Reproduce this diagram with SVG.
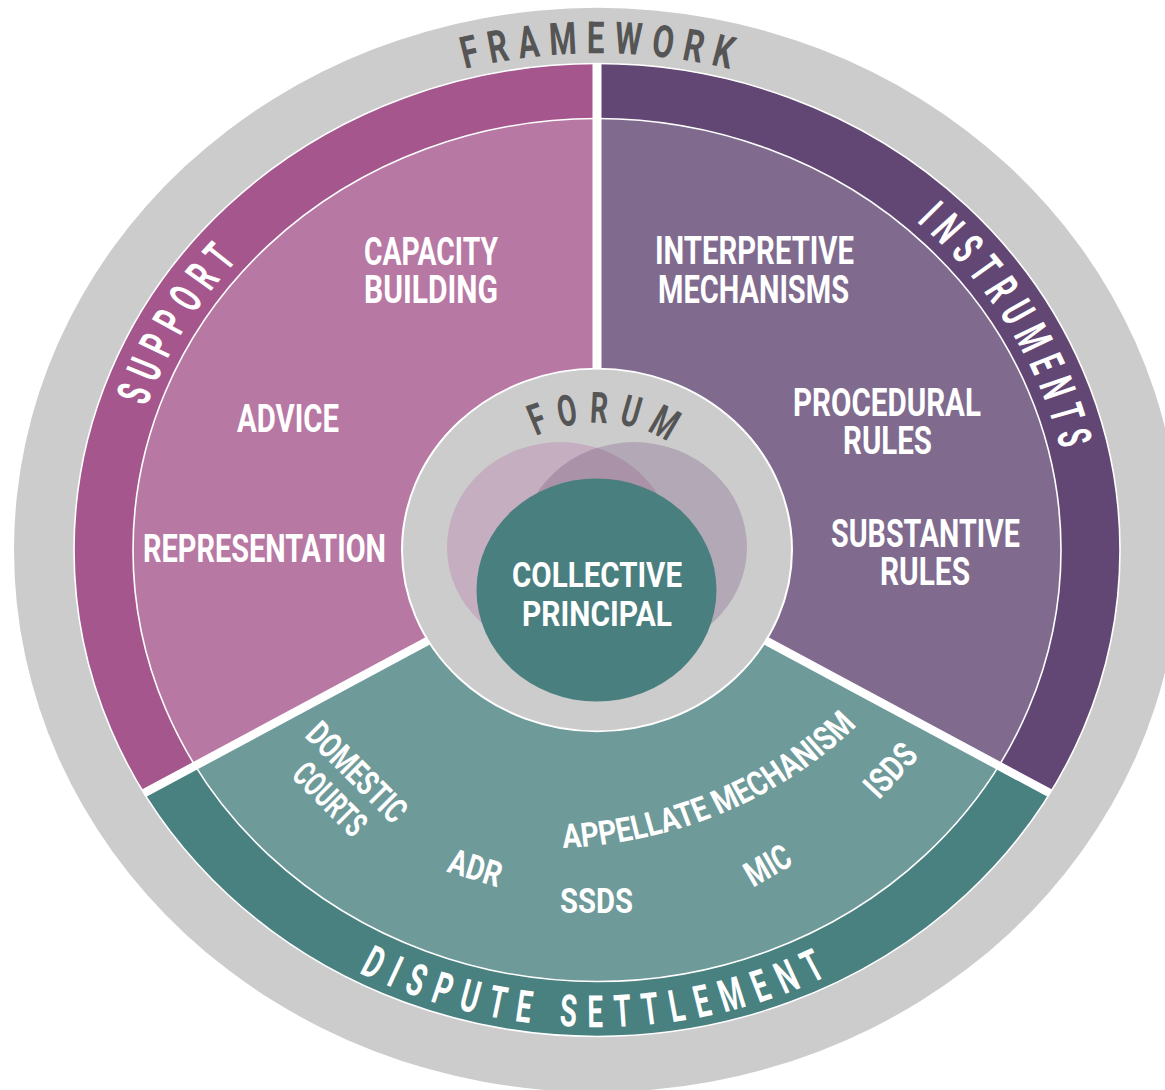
<svg xmlns="http://www.w3.org/2000/svg" width="1165" height="1090" viewBox="0 0 1165 1090">
<style>
text{font-family:Roboto,"Liberation Sans","DejaVu Sans",sans-serif;font-weight:700;}
.w{fill:#ffffff;}
.g{fill:#555555;}
.lbl{font-size:38px;}
.sm{font-size:35px;}
.ring{fill:none;stroke:#ffffff;stroke-width:1.6;}
.div{stroke:#ffffff;stroke-width:9;}
</style>
<defs>
<path id="pFrame" d="M -501.8 -182.6 A 534 534 0 0 1 501.8 -182.6"/>
<path id="pSupport" d="M -412.2 238 A 476 476 0 0 1 0 -476"/>
<path id="pInstr" d="M 82.66 -468.77 A 476 476 0 0 1 447.3 162.8"/>
<path id="pDispute" d="M -444.3 256.5 A 513 513 0 0 0 444.3 256.5"/>
<path id="pForum" d="M -136.6 0 A 136.6 136.6 0 0 1 136.6 0"/>
<path id="pAppel" d="M -34 320.4 A 437 437 0 0 0 261 188.2"/>
<clipPath id="cVennL"><circle cx="-37" cy="-3" r="113"/></clipPath>
</defs>

<g id="framework">
<g transform="translate(597 550) scale(1 0.93)">
<circle cx="0" cy="0" r="583" fill="#cccccc"/>
<text class="g" font-size="48" letter-spacing="14.5" text-anchor="middle"><textPath href="#pFrame" startOffset="657.1" textLength="277" lengthAdjust="spacingAndGlyphs">FRAMEWORK</textPath></text>
</g>
</g>

<g id="support">
<g transform="translate(597 550) scale(1 0.93)">
<path d="M0 0 L-452.9 261.5 A523 523 0 0 1 0 -523 Z" fill="#a5568c"/>
<path d="M0 0 L-401.8 232 A464 464 0 0 1 0 -464 Z" fill="#b878a4"/>
<text class="w" font-size="47" letter-spacing="15.8" text-anchor="middle"><textPath href="#pSupport" startOffset="502.4" textLength="192.5" lengthAdjust="spacingAndGlyphs">SUPPORT</textPath></text>
</g>
<text class="w lbl"><tspan x="364" y="265" textLength="134" lengthAdjust="spacingAndGlyphs">CAPACITY</tspan><tspan x="364" y="303" textLength="134" lengthAdjust="spacingAndGlyphs">BUILDING</tspan></text>
<text class="w lbl" x="237" y="432" textLength="102" lengthAdjust="spacingAndGlyphs">ADVICE</text>
<text class="w lbl" x="143" y="562" textLength="243" lengthAdjust="spacingAndGlyphs">REPRESENTATION</text>
</g>

<g id="instruments">
<g transform="translate(597 550) scale(1 0.93)">
<path d="M0 0 L0 -523 A523 523 0 0 1 452.9 261.5 Z" fill="#624774"/>
<path d="M0 0 L0 -464 A464 464 0 0 1 401.8 232 Z" fill="#806b8f"/>
<text class="w" font-size="47" letter-spacing="15.7" text-anchor="middle"><textPath href="#pInstr" startOffset="415.5" textLength="297.4" lengthAdjust="spacingAndGlyphs">INSTRUMENTS</textPath></text>
</g>
<text class="w lbl"><tspan x="655" y="264" textLength="199" lengthAdjust="spacingAndGlyphs">INTERPRETIVE</tspan><tspan x="658" y="303" textLength="191" lengthAdjust="spacingAndGlyphs">MECHANISMS</tspan></text>
<text class="w lbl"><tspan x="793" y="416" textLength="188" lengthAdjust="spacingAndGlyphs">PROCEDURAL</tspan><tspan x="843" y="454" textLength="89" lengthAdjust="spacingAndGlyphs">RULES</tspan></text>
<text class="w lbl"><tspan x="831" y="547" textLength="189" lengthAdjust="spacingAndGlyphs">SUBSTANTIVE</tspan><tspan x="880" y="585" textLength="90" lengthAdjust="spacingAndGlyphs">RULES</tspan></text>
</g>

<g id="dispute-settlement">
<g transform="translate(597 550) scale(1 0.93)">
<path d="M0 0 L452.9 261.5 A523 523 0 0 1 -452.9 261.5 Z" fill="#498080"/>
<path d="M0 0 L401.8 232 A464 464 0 0 1 -401.8 232 Z" fill="#6e9a9a"/>
<text class="w" font-size="48" letter-spacing="19.6" text-anchor="middle"><textPath href="#pDispute" startOffset="538.4" textLength="498.4" lengthAdjust="spacingAndGlyphs">DISPUTE SETTLEMENT</textPath></text>
<text class="w" font-size="36"><textPath href="#pAppel" startOffset="0" textLength="330" lengthAdjust="spacingAndGlyphs">APPELLATE MECHANISM</textPath></text>
</g>
<text class="w sm" transform="translate(344 785) rotate(45)" text-anchor="middle"><tspan x="0" y="-6" textLength="126" lengthAdjust="spacingAndGlyphs">DOMESTIC</tspan><tspan x="0" y="32" textLength="88" lengthAdjust="spacingAndGlyphs">COURTS</tspan></text>
<text class="w sm" transform="translate(475.5 867.5) rotate(17)" x="0" y="12.5" text-anchor="middle" textLength="54" lengthAdjust="spacingAndGlyphs">ADR</text>
<text class="w sm" x="560" y="913" textLength="73" lengthAdjust="spacingAndGlyphs">SSDS</text>
<text class="w sm" transform="translate(767.5 865) rotate(-30)" x="0" y="12.5" text-anchor="middle" textLength="48" lengthAdjust="spacingAndGlyphs">MIC</text>
<text class="w sm" transform="translate(890 770) rotate(-47)" x="0" y="12.5" text-anchor="middle" textLength="60" lengthAdjust="spacingAndGlyphs">ISDS</text>
</g>

<g id="connectors">
<g transform="translate(597 550) scale(1 0.93)">
<circle class="ring" cx="0" cy="0" r="523"/>
<circle class="ring" cx="0" cy="0" r="464"/>
<line class="div" x1="0" y1="0" x2="0" y2="-523"/>
<line class="div" x1="0" y1="0" x2="-452.9" y2="261.5"/>
<line class="div" x1="0" y1="0" x2="452.9" y2="261.5"/>
</g>
</g>

<g id="forum">
<g transform="translate(597 550) scale(1 0.93)">
<circle cx="0" cy="0" r="195" fill="#cccccc" stroke="#ffffff" stroke-width="2"/>
<circle cx="-37" cy="-3" r="113" fill="#c4aec0"/>
<circle cx="37" cy="-3" r="113" fill="#b3a9b6"/>
<circle cx="37" cy="-3" r="113" fill="#aa92a8" clip-path="url(#cVennL)"/>
<text class="g" font-size="46.5" letter-spacing="17.9" text-anchor="middle"><textPath href="#pForum" startOffset="225.4" textLength="148.5" lengthAdjust="spacingAndGlyphs">FORUM</textPath></text>
</g>
</g>

<g id="collective-principal">
<g transform="translate(597 550) scale(1 0.93)">
<circle cx="-0.5" cy="43" r="120" fill="#4a7f7f"/>
</g>
<text class="w sm"><tspan x="512" y="587" textLength="170" lengthAdjust="spacingAndGlyphs">COLLECTIVE</tspan><tspan x="522" y="626" textLength="150" lengthAdjust="spacingAndGlyphs">PRINCIPAL</tspan></text>
</g>
</svg>
